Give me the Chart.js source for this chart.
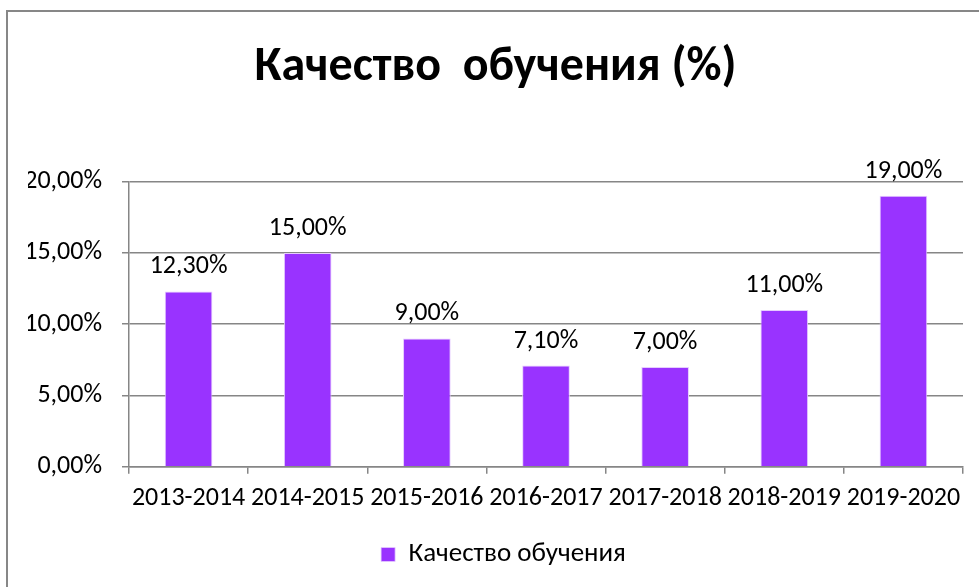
<!DOCTYPE html>
<html><head><meta charset="utf-8">
<script src="https://cdn.jsdelivr.net/npm/chart.js@4"></script>
<style>html,body{margin:0;padding:0;background:#fff;overflow:hidden}#wrap{width:979px;height:587px;position:relative}</style>
</head><body><div id="wrap"><canvas id="c" width="979" height="587"></canvas></div>
<script>
const categories = ['2013-2014','2014-2015','2015-2016','2016-2017','2017-2018','2018-2019','2019-2020'];
const quality = [12.3, 15.0, 9.0, 7.1, 7.0, 11.0, 19.0];
const seriesName = 'Качество обучения';
const titleText = 'Качество  обучения (%)';
const yTicks = [0, 5, 10, 15, 20];

const FONT = 'Carlito, Lato, "Open Sans", sans-serif';
const fmt = v => v.toFixed(2).replace('.', ',') + '%';

const framePlugin = {
  id: 'frame',
  beforeDraw(chart) {
    const ctx = chart.ctx;
    ctx.save();
    ctx.fillStyle = '#fff';
    ctx.fillRect(0, 0, chart.width, chart.height);
    ctx.strokeStyle = '#878787';
    ctx.lineWidth = 2;
    ctx.beginPath();
    ctx.moveTo(7, chart.height + 5);
    ctx.lineTo(7, 11);
    ctx.lineTo(chart.width + 5, 11);
    ctx.stroke();
    ctx.restore();
  },
  afterLayout(chart) {
    if (chart.legend) { chart.legend.left += 8; chart.legend.right += 8; }
  }
};
const labelPlugin = {
  id: 'valLabels',
  afterDatasetsDraw(chart) {
    const ctx = chart.ctx;
    const meta = chart.getDatasetMeta(0);
    ctx.save();
    ctx.font = '26px ' + FONT;
    ctx.fillStyle = '#000';
    ctx.textAlign = 'center';
    ctx.textBaseline = 'alphabetic';
    meta.data.forEach((bar, i) => {
      ctx.fillText(fmt(chart.data.datasets[0].data[i]), bar.x, bar.y - 18);
    });
    ctx.restore();
  }
};

new Chart(document.getElementById('c'), {
  type: 'bar',
  data: {
    labels: categories,
    datasets: [{
      label: seriesName,
      data: quality,
      backgroundColor: '#9933ff',
      borderColor: '#e6ccff',
      borderWidth: {left: 1, right: 1, top: 1, bottom: 0},
      categoryPercentage: 1,
      barPercentage: 0.4
    }]
  },
  options: {
    responsive: false,
    animation: false,
    devicePixelRatio: 1,
    layout: { padding: { left: 28, right: 16, top: 20, bottom: 9 } },
    plugins: {
      title: {
        display: true,
        text: titleText,
        color: '#000',
        font: { family: FONT, size: 48, weight: 'bold' },
        padding: { top: 19, bottom: 85 }
      },
      legend: {
        position: 'bottom',
        labels: {
          color: '#000',
          font: { family: FONT, size: 27 },
          boxWidth: 14, boxHeight: 14, padding: 10
        }
      },
      tooltip: { enabled: false }
    },
    scales: {
      y: {
        min: 0, max: 20,
        afterBuildTicks(scale) { scale.ticks = yTicks.map(v => ({ value: v })); },
        afterFit(scale) { scale.width = 101; },
        ticks: { callback: v => fmt(v), color: '#000', font: { family: FONT, size: 26 }, padding: 20 },
        grid: { color: '#868686', lineWidth: 1.5, tickLength: 7 },
        border: { color: '#868686', width: 1.5 }
      },
      x: {
        afterFit(scale) { scale.height += 8; },
        ticks: { color: '#000', font: { family: FONT, size: 26 }, padding: 9, maxRotation: 0, autoSkip: false },
        grid: { color: '#868686', lineWidth: 1.5, drawOnChartArea: false, tickLength: 7 },
        border: { color: '#868686', width: 1.5 }
      }
    }
  },
  plugins: [framePlugin, labelPlugin]
});
</script></body></html>
